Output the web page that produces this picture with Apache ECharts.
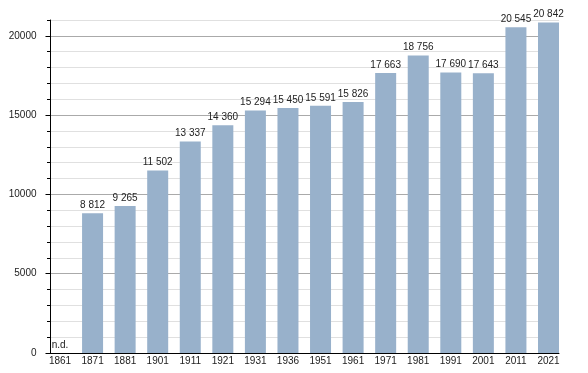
<!DOCTYPE html>
<html>
<head>
<meta charset="utf-8">
<script src="https://cdn.jsdelivr.net/npm/echarts@6/dist/echarts.min.js"></script>
<style>html,body{margin:0;padding:0;background:#fff}#c{width:588px;height:373px}</style>
</head>
<body>
<div id="c"></div>
<script>
const years = ['1861','1871','1881','1901','1911','1921','1931','1936','1951','1961','1971','1981','1991','2001','2011','2021'];
const population = [null, 8812, 9265, 11502, 13337, 14360, 15294, 15450, 15591, 15826, 17663, 18756, 17690, 17643, 20545, 20842];
const yMajorTicks = [0, 5000, 10000, 15000, 20000];
const yMax = 21000;
const noDataLabel = 'n.d.';

const FONT = '"Liberation Sans", Arial, Helvetica, sans-serif';
const fmt = v => String(v).replace(/\B(?=(\d{3})+(?!\d))/g, ' ');

const seriesData = population.map(v => v == null
  ? { value: 0, label: { formatter: noDataLabel } }
  : v);

const chart = echarts.init(document.getElementById('c'), null, { renderer: 'canvas' });
chart.setOption({
  animation: false,
  backgroundColor: '#fff',
  grid: [
    { left: 60, right: 39.5, top: 20, bottom: 20 },
    { left: 50.5, right: 29, top: 20, bottom: 20 }
  ],
  xAxis: [
    {
      gridIndex: 0, type: 'category', data: years, boundaryGap: false,
      axisLine: { show: false }, axisTick: { show: false },
      axisLabel: { color: '#222', fontSize: 10, fontFamily: FONT, margin: 3, interval: 0 },
      splitLine: { show: false }
    },
    {
      gridIndex: 1, type: 'value', min: 0, max: 1,
      axisLine: { show: true, lineStyle: { color: '#000', width: 1 } },
      axisTick: { show: false }, axisLabel: { show: false }, splitLine: { show: false }
    }
  ],
  yAxis: [
    { gridIndex: 0, type: 'value', min: 0, max: yMax, show: false, splitLine: { show: false } },
    {
      gridIndex: 1, type: 'value', position: 'left', min: 0, max: yMax, interval: 1000,
      axisLine: { show: true, lineStyle: { color: '#000', width: 1 } },
      axisTick: { show: true, length: 3.5, lineStyle: { color: '#000' } },
      axisLabel: { show: false },
      splitLine: { show: true, lineStyle: { color: ['#aaaaaa', '#e0e0e0', '#e0e0e0', '#e0e0e0', '#e0e0e0'], width: 1 } }
    },
    {
      gridIndex: 1, type: 'value', position: 'left', offset: 0, min: 0, max: yMax,
      axisLine: { show: false },
      axisTick: { show: true, length: 5, customValues: yMajorTicks, lineStyle: { color: '#000' } },
      axisLabel: { show: true, customValues: yMajorTicks, color: '#222', fontSize: 10, fontFamily: FONT, margin: 14,
        formatter: v => String(v) },
      splitLine: { show: false }
    }
  ],
  series: [{
    type: 'bar', xAxisIndex: 0, yAxisIndex: 0,
    data: seriesData, barWidth: 21,
    itemStyle: { color: '#98b1cb' },
    label: { show: true, position: 'top', distance: 3, color: '#222', fontSize: 10, fontFamily: FONT,
      formatter: p => fmt(p.value) }
  }]
});
</script>
</body>
</html>
